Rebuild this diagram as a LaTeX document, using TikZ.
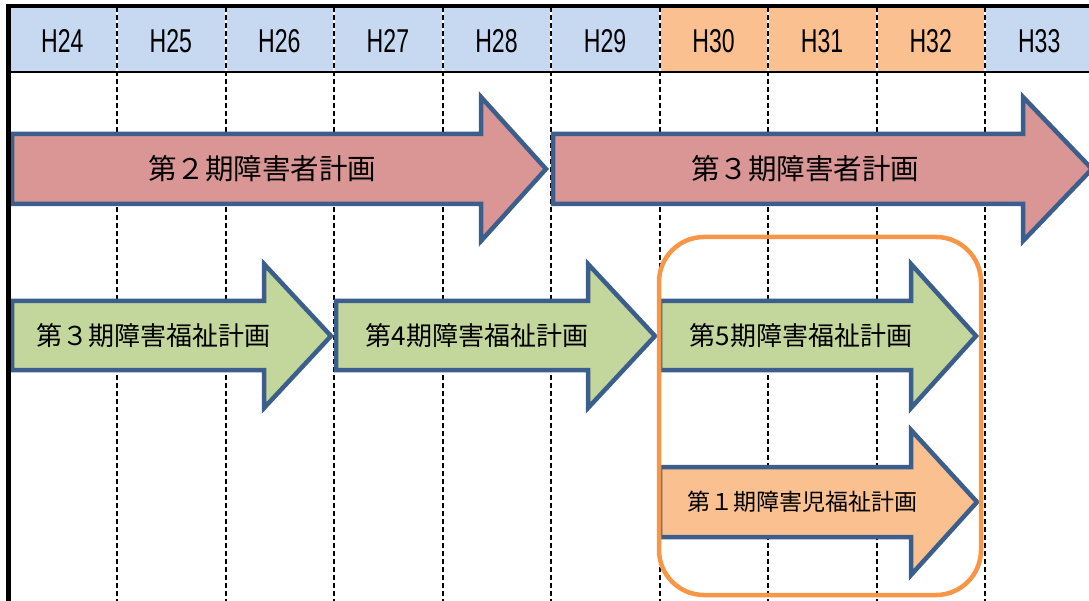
\documentclass[tikz,border=0pt]{standalone}
\usepackage{fontspec}
\newfontfamily\jp{Noto Sans CJK JP}
\newfontfamily\hdr[FakeStretch=0.7]{Liberation Sans}
\definecolor{hblue}{HTML}{C6D9F1}
\definecolor{horange}{HTML}{FAC090}
\definecolor{ared}{HTML}{D99694}
\definecolor{agreen}{HTML}{C3D69B}
\definecolor{aline}{HTML}{3B5E8C}
\definecolor{oline}{HTML}{F79646}
\tikzset{
  arrowshape/.style={draw=aline, line width=4.5pt, line join=miter},
  hdrlabel/.style={font=\hdr\fontsize{33}{33}\selectfont, inner sep=0pt},
  redlabel/.style={font=\jp\fontsize{28.5}{28.5}\selectfont, inner sep=0pt},
  greenlabel/.style={font=\jp\fontsize{26}{26}\selectfont, inner sep=0pt},
  orangelabel/.style={font=\jp\fontsize{23}{23}\selectfont, inner sep=0pt},
  divider/.style={line width=2.4pt, dash pattern=on 5pt off 3pt},
}
\begin{document}
\begin{tikzpicture}[x=1pt,y=-1pt]
\useasboundingbox (0,0) rectangle (1089,601);
\begin{scope}
\clip (0,0) rectangle (1089,601);
% header
\fill[hblue] (8,7) rectangle (660,72);
\fill[horange] (660,7) rectangle (985,72);
\fill[hblue] (985,7) rectangle (1089,72);
\foreach \i/\lab in {0/H24,1/H25,2/H26,3/H27,4/H28,5/H29,6/H30,7/H31,8/H32,9/H33}{
  \node[hdrlabel] (hd\i) at ({8+108.55*(\i+0.5)},41) {\lab};
}
% dividers
\foreach \x in {117,226,334,443,551,660,768,877,985}{
  \draw[white, line width=2.4pt] (\x,7) -- (\x,601);
  \draw[divider] (\x,7) -- (\x,601);
}
\draw[line width=2.8pt] (8,72) -- (1089,72);
\draw[line width=4pt] (6,6) -- (1089,6);
% red arrows
\filldraw[arrowshape, fill=ared] (12,134) -- (481,134) -- (481,97) -- (546,169) -- (481,241) -- (481,204) -- (12,204) -- cycle;
\filldraw[arrowshape, fill=ared] (553,134) -- (1023,134) -- (1023,97) -- (1092,169) -- (1023,241) -- (1023,204) -- (553,204) -- cycle;
\node[redlabel] (r1) at (262,169) {第２期障害者計画};
\node[redlabel] (r2) at (805,169) {第３期障害者計画};
% green arrows
\filldraw[arrowshape, fill=agreen] (12,301) -- (264,301) -- (264,264) -- (331,336) -- (264,408) -- (264,370) -- (12,370) -- cycle;
\filldraw[arrowshape, fill=agreen] (336,301) -- (588,301) -- (588,264) -- (655,336) -- (588,408) -- (588,370) -- (336,370) -- cycle;
\filldraw[arrowshape, fill=agreen] (660,301) -- (911,301) -- (911,264) -- (976,336) -- (911,408) -- (911,370) -- (660,370) -- cycle;
\node[greenlabel] (g1) at (153,336) {第３期障害福祉計画};
\node[greenlabel] (g2) at (477,336) {第4期障害福祉計画};
\node[greenlabel] (g3) at (801,336) {第5期障害福祉計画};
% orange arrow
\filldraw[arrowshape, fill=horange] (660,467) -- (911,467) -- (911,430) -- (977,502) -- (911,575) -- (911,537) -- (660,537) -- cycle;
\node[orangelabel] (o1) at (802,502) {第１期障害児福祉計画};
% rounded frame
\draw[oline, line width=4.5pt, rounded corners=45pt] (659,237) rectangle (981,595);
% left border
\draw[line width=5pt] (8.5,4) -- (8.5,601);
\end{scope}
\end{tikzpicture}
\end{document}
